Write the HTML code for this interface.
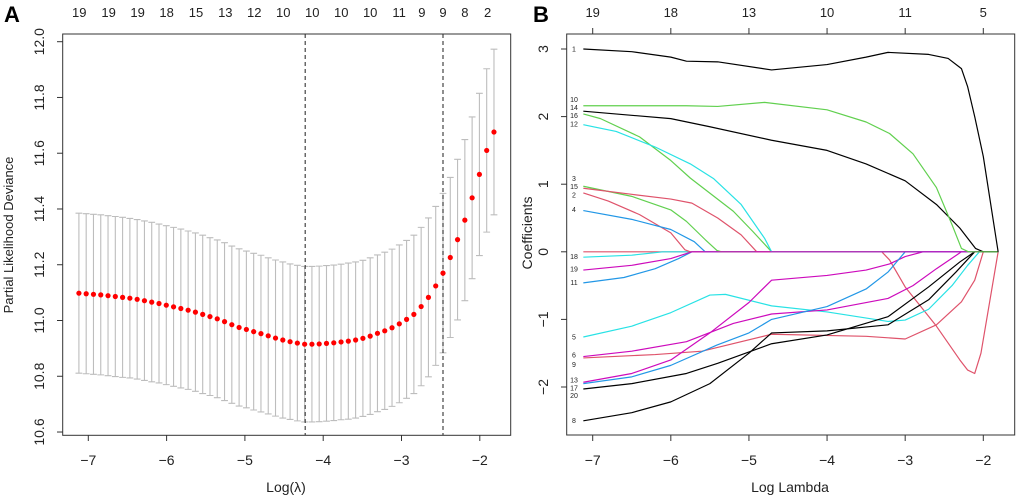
<!DOCTYPE html>
<html><head><meta charset="utf-8"><style>
html,body{margin:0;padding:0;background:#fff;}
svg{display:block;font-family:"Liberation Sans",Arial,sans-serif;}
</style></head><body>
<svg id="chart" width="1020" height="501" viewBox="0 0 1020 501" xmlns="http://www.w3.org/2000/svg">
<text x="4" y="22" font-size="22" font-weight="bold">A</text>
<text x="533" y="22" font-size="22" font-weight="bold">B</text>
<g id="pa"></g>
<g id="pb"></g>
</svg>
<script>
// ---------- Panel A data ----------
const cvStart = -7.12;
const cvStep = 0.093;
const cvMean = [11.098,11.096,11.094,11.092,11.089,11.086,11.083,11.080,11.076,11.071,11.066,11.061,11.055,11.049,11.043,11.037,11.030,11.022,11.014,11.006,10.996,10.985,10.975,10.968,10.960,10.953,10.945,10.937,10.930,10.924,10.919,10.915,10.915,10.916,10.918,10.920,10.923,10.926,10.930,10.936,10.944,10.954,10.963,10.974,10.988,11.004,11.022,11.050,11.083,11.124,11.170,11.226,11.290,11.360,11.440,11.524,11.610,11.676];
const cvSe = [0.287,0.287,0.287,0.287,0.287,0.287,0.287,0.286,0.286,0.286,0.286,0.285,0.285,0.285,0.285,0.284,0.284,0.284,0.283,0.283,0.283,0.282,0.282,0.281,0.281,0.281,0.280,0.280,0.280,0.279,0.279,0.279,0.279,0.279,0.279,0.279,0.279,0.280,0.280,0.280,0.281,0.281,0.282,0.282,0.283,0.283,0.284,0.284,0.285,0.285,0.286,0.287,0.288,0.289,0.290,0.291,0.293,0.297];
const cvVlines = [-4.23, -2.47];
const aXTicks = [-7,-6,-5,-4,-3,-2];
const aYTicks = [10.6,10.8,11.0,11.2,11.4,11.6,11.8,12.0];
const aTopPos = [-7.115,-6.74,-6.37,-6.0,-5.625,-5.25,-4.88,-4.51,-4.14,-3.77,-3.40,-3.03,-2.74,-2.47,-2.19,-1.90];
const aTopLab = ["19","19","19","18","15","13","12","10","10","10","10","11","9","9","8","2"];

// ---------- Panel B data ----------
const bXTicks = [-7,-6,-5,-4,-3,-2];
const bYTicks = [-2,-1,0,1,2,3];
const bTopLab = ["19","18","13","10","11","5"];
const colors = {k:"#000000",r:"#DF536B",g:"#61D04F",b:"#2297E6",c:"#28E2E5",m:"#CD0BBC"};
const pathNames = ["7","18","11","2","4","3","15","16","12","5","6","9","13","17","20","8","19","14","10","1"];
const pathColors = ["r","c","b","r","b","g","r","g","c","c","m","r","m","b","k","k","m","k","g","k"];
const pathPoints = [
 [[-7.12,0],[-3.3,0],[-3.2,-0.12],[-3.0,-0.52],[-2.6,-1.1],[-2.3,-1.6],[-2.2,-1.75],[-2.11,-1.8],[-2.03,-1.5],[-1.81,0]],
 [[-7.12,-0.08],[-6.5,-0.05],[-6.1,0],[-1.81,0]],
 [[-7.12,-0.46],[-6.6,-0.38],[-6.2,-0.25],[-5.9,-0.1],[-5.73,0],[-1.81,0]],
 [[-7.12,0.87],[-6.8,0.75],[-6.4,0.55],[-6.0,0.28],[-5.82,0.03],[-5.75,0],[-1.81,0]],
 [[-7.12,0.61],[-6.5,0.48],[-6.0,0.33],[-5.7,0.15],[-5.56,0],[-1.81,0]],
 [[-7.12,0.97],[-6.5,0.82],[-6.0,0.62],[-5.8,0.45],[-5.56,0.18],[-5.41,0.02],[-5.35,0],[-1.81,0]],
 [[-7.12,0.94],[-6.5,0.85],[-6.0,0.78],[-5.73,0.72],[-5.4,0.5],[-5.1,0.25],[-4.9,0],[-1.81,0]],
 [[-7.12,2.04],[-6.9,1.97],[-6.4,1.7],[-6.0,1.35],[-5.75,1.09],[-5.2,0.6],[-4.95,0.3],[-4.71,0],[-1.81,0]],
 [[-7.12,1.88],[-6.7,1.78],[-6.2,1.55],[-5.75,1.3],[-5.45,1.08],[-5.1,0.7],[-4.8,0.2],[-4.71,0],[-1.81,0]],
 [[-7.12,-1.26],[-6.5,-1.1],[-6.0,-0.9],[-5.5,-0.64],[-5.3,-0.63],[-4.71,-0.8],[-4.0,-0.89],[-3.22,-1.03],[-3.0,-1.01],[-2.7,-0.85],[-2.4,-0.5],[-2.2,-0.2],[-2.05,0],[-1.81,0]],
 [[-7.12,-1.55],[-6.5,-1.47],[-5.8,-1.33],[-5.2,-1.06],[-4.71,-0.92],[-4.0,-0.86],[-3.22,-0.69],[-2.9,-0.5],[-2.6,-0.25],[-2.28,0],[-1.81,0]],
 [[-7.12,-1.57],[-6.2,-1.52],[-5.6,-1.47],[-4.71,-1.22],[-3.5,-1.25],[-3.0,-1.29],[-2.6,-1.08],[-2.28,-0.74],[-2.11,-0.42],[-2.0,0],[-1.81,0]],
 [[-7.12,-1.93],[-6.5,-1.8],[-6.0,-1.6],[-5.5,-1.2],[-5.0,-0.75],[-4.71,-0.42],[-4.0,-0.35],[-3.5,-0.27],[-3.2,-0.18],[-3.0,-0.07],[-2.77,0],[-1.81,0]],
 [[-7.12,-1.95],[-6.5,-1.85],[-6.0,-1.68],[-5.41,-1.38],[-5.0,-1.2],[-4.71,-1.0],[-4.0,-0.81],[-3.5,-0.55],[-3.22,-0.3],[-3.0,0],[-1.81,0]],
 [[-7.12,-2.03],[-6.5,-1.95],[-5.8,-1.8],[-5.4,-1.65],[-4.71,-1.36],[-4.0,-1.23],[-3.22,-0.96],[-2.7,-0.52],[-2.3,-0.15],[-2.11,0],[-1.81,0]],
 [[-7.12,-2.5],[-6.5,-2.38],[-6.0,-2.22],[-5.5,-1.95],[-5.0,-1.5],[-4.71,-1.2],[-4.0,-1.17],[-3.22,-1.08],[-2.7,-0.71],[-2.35,-0.3],[-2.11,0],[-1.81,0]],
 [[-7.12,-0.27],[-6.5,-0.2],[-6.0,-0.1],[-5.73,0],[-1.81,0]],
 [[-7.12,2.08],[-6.0,1.97],[-5.5,1.85],[-4.71,1.65],[-4.0,1.5],[-3.5,1.3],[-3.0,1.05],[-2.6,0.7],[-2.3,0.35],[-2.1,0.05],[-2.0,0],[-1.81,0]],
 [[-7.12,2.16],[-5.8,2.16],[-5.4,2.15],[-4.8,2.21],[-4.0,2.1],[-3.5,1.92],[-3.2,1.75],[-2.9,1.45],[-2.6,0.95],[-2.4,0.4],[-2.28,0.05],[-2.19,0],[-1.81,0]],
 [[-7.12,3.0],[-6.5,2.96],[-6.0,2.88],[-5.8,2.82],[-5.4,2.81],[-4.71,2.69],[-4.0,2.77],[-3.5,2.88],[-3.22,2.95],[-2.7,2.92],[-2.45,2.86],[-2.28,2.71],[-2.2,2.44],[-2.11,2.0],[-2.0,1.41],[-1.81,0]]
];
const labelText = ["1","10","14","16","12","3","15","2","4","18","19","11","5","6","9","13","17","20","8"];
const labelCoef = [3.0,2.25,2.13,2.01,1.89,1.08,0.96,0.84,0.62,-0.07,-0.26,-0.46,-1.26,-1.53,-1.67,-1.9,-2.02,-2.13,-2.5];

// ---------- helpers ----------
const NS="http://www.w3.org/2000/svg";
function mk(parent,tag,attrs,txt){const e=document.createElementNS(NS,tag);for(const k in attrs)e.setAttribute(k,attrs[k]);if(txt!==undefined)e.textContent=txt;parent.appendChild(e);return e;}

// ---------- Panel A ----------
const pa=document.getElementById('pa');
const ax=v=>88.3+(v+7)*78.3;
const ay=v=>41.7+(12-v)*278.8;
let e;
e=mk(pa,'rect',{x:62.7,y:34,width:448,height:401.3,fill:'none',stroke:'#333','stroke-width':1});


aXTicks.forEach(t=>{
  e=mk(pa,'line',{x1:ax(t),x2:ax(t),y1:435.3,y2:441,stroke:'#333'});
  
  
  e=mk(pa,'text',{x:ax(t),y:465,'font-size':14,'text-anchor':'middle',fill:'#222'},t<0?'\u2212'+Math.abs(t):String(t));
  
  
});
aYTicks.forEach(t=>{
  e=mk(pa,'line',{x1:57,x2:62.7,y1:ay(t),y2:ay(t),stroke:'#333'});
  
  
  e=mk(pa,'text',{x:0,y:0,'font-size':14,'text-anchor':'middle',fill:'#222',transform:`translate(44,${ay(t)}) rotate(-90)`},t.toFixed(1));
  
  
});
aTopPos.forEach((p,i)=>{
  e=mk(pa,'text',{x:ax(p),y:17,'font-size':13,'text-anchor':'middle',fill:'#222'},aTopLab[i]);
  
  
});
e=mk(pa,'text',{x:286,y:492,'font-size':14,'text-anchor':'middle',fill:'#222'},'Log(\u03bb)');


e=mk(pa,'text',{x:0,y:0,'font-size':13,'text-anchor':'middle',fill:'#222',transform:'translate(13,235) rotate(-90)'},'Partial Likelihood Deviance');


cvMean.forEach((m,i)=>{
  const x=ax(cvStart+i*cvStep), hi=ay(m+cvSe[i]), lo=ay(m-cvSe[i]);
  e=mk(pa,'path',{d:`M${x},${hi}V${lo}M${x-3.4},${hi}H${x+3.4}M${x-3.4},${lo}H${x+3.4}`,stroke:'#bdbdbd','stroke-width':1.1,fill:'none'});
  
  
});
cvVlines.forEach(v=>{
  e=mk(pa,'line',{x1:ax(v),x2:ax(v),y1:34,y2:435.3,stroke:'#333','stroke-width':1.1,'stroke-dasharray':'4,3'});
  
  
});
cvMean.forEach((m,i)=>{
  e=mk(pa,'circle',{cx:ax(cvStart+i*cvStep),cy:ay(m),r:2.6,fill:'#ff0000'});
  
  
});

// ---------- Panel B ----------
const pb=document.getElementById('pb');
const bx=v=>592.7+(v+7)*78.12;
const by=v=>49+(3-v)*67.6;
e=mk(pb,'rect',{x:566.7,y:34,width:448,height:401,fill:'none',stroke:'#333','stroke-width':1});


bXTicks.forEach((t,i)=>{
  e=mk(pb,'line',{x1:bx(t),x2:bx(t),y1:435,y2:441,stroke:'#333'});
  
  
  e=mk(pb,'text',{x:bx(t),y:465,'font-size':14,'text-anchor':'middle',fill:'#222'},t<0?'\u2212'+Math.abs(t):String(t));
  
  
  e=mk(pb,'line',{x1:bx(t),x2:bx(t),y1:28,y2:34,stroke:'#333'});
  
  
  e=mk(pb,'text',{x:bx(t),y:17,'font-size':13,'text-anchor':'middle',fill:'#222'},bTopLab[i]);
  
  
});
bYTicks.forEach(t=>{
  e=mk(pb,'line',{x1:561,x2:566.7,y1:by(t),y2:by(t),stroke:'#333'});
  
  
  e=mk(pb,'text',{x:0,y:0,'font-size':14,'text-anchor':'middle',fill:'#222',transform:`translate(548,${by(t)}) rotate(-90)`},t<0?'\u2212'+Math.abs(t):String(t));
  
  
});
e=mk(pb,'text',{x:790,y:492,'font-size':14,'text-anchor':'middle',fill:'#222'},'Log Lambda');


e=mk(pb,'text',{x:0,y:0,'font-size':14,'text-anchor':'middle',fill:'#222',transform:'translate(532,233) rotate(-90)'},'Coefficients');


pathPoints.forEach((pts,i)=>{
  const d=pts.map((p,j)=>(j?'L':'M')+bx(p[0]).toFixed(2)+','+by(p[1]).toFixed(2)).join('');
  e=mk(pb,'path',{d:d,fill:'none',stroke:colors[pathColors[i]],'stroke-width':1.2,'stroke-linejoin':'round'});
  
  
});
labelText.forEach((t,i)=>{
  e=mk(pb,'text',{x:574,y:by(labelCoef[i])+2.3,'font-size':7,'text-anchor':'middle',fill:'#222'},t);
  
  
});
</script>
</body></html>
